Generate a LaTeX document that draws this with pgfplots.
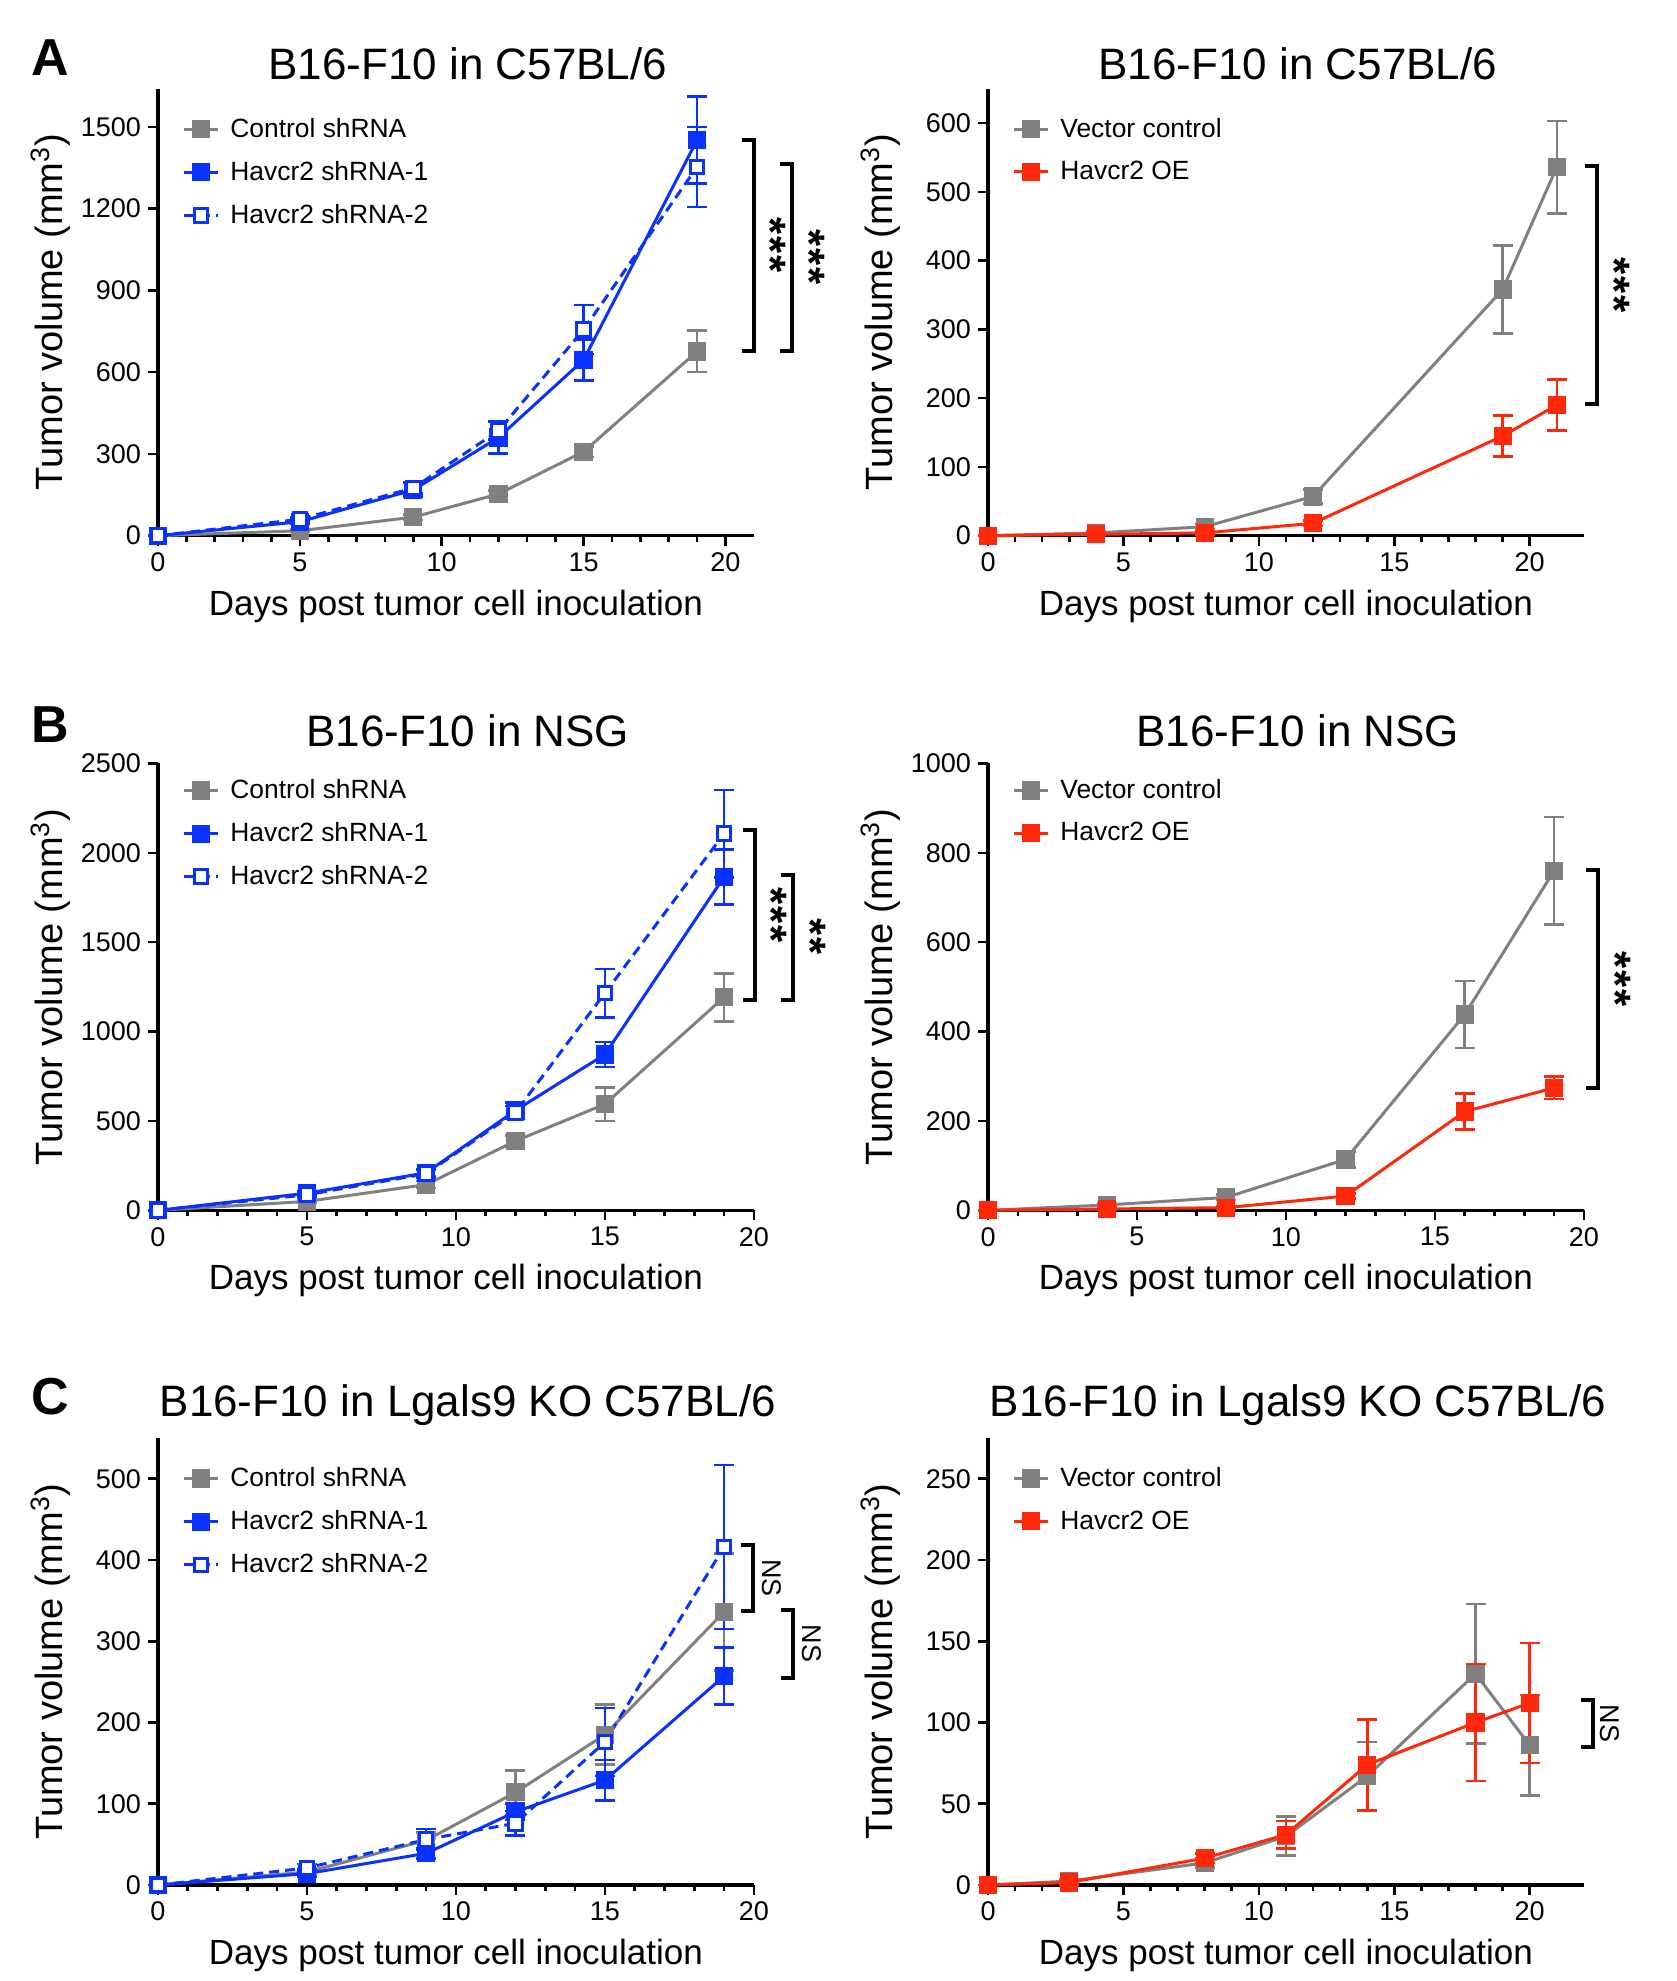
\documentclass[border=0pt]{standalone}
\usepackage{fontspec}
\setmainfont{Liberation Sans}
\usepackage{pgfplots}
\pgfplotsset{compat=1.18}

\definecolor{cgray}{RGB}{128,128,128}
\definecolor{cblue}{RGB}{10,50,255}
\definecolor{cred}{RGB}{255,40,10}

\pgfplotsset{
  panel/.style={
    scale only axis, width=298pt, height=223.5pt,
    axis lines*=left, axis line style={line width=1.6pt},
    xmin=0, ymin=0, clip=false,
    tick align=outside,
    major tick length=5pt, minor tick length=3pt,
    every tick/.style={line width=1.3pt, black},
    xtick distance=5, minor x tick num=4,
    tick label style={font=\fontsize{13.5}{13.5}\selectfont},
    /pgf/number format/assume math mode=true,
    /pgf/number format/1000 sep={},
    xlabel={Days post tumor cell inoculation},
    ylabel={Tumor volume (mm\textsuperscript{3})},
    xlabel style={font=\fontsize{17.5}{17.5}\selectfont, at={(axis description cs:0.5,-0.178)}, anchor=base},
    ylabel style={font=\fontsize{19}{19}\selectfont, at={(axis description cs:-0.180,0.5)}, anchor=center},
    title style={at={(axis description cs:0.52,1)}, anchor=base, font=\fontsize{22}{22}\selectfont},
    legend style={at={(axis description cs:0.03,1)}, anchor=north west, yshift=-11pt, draw=none, fill=none,
      font=\fontsize{13.2}{13.2}\selectfont, row sep=7.5pt, nodes={inner sep=1.5pt},
      /tikz/every odd column/.append style={column sep=4pt}},
    legend cell align=left,
  },
  eb/.style={/pgfplots/error bars/y dir=both, /pgfplots/error bars/y explicit,
    /pgfplots/error bars/error bar style={line width=1.3pt, solid},
    /pgfplots/error bars/error mark options={rotate=90, mark size=5pt, line width=1.3pt, solid}},
  sgray/.style={color=cgray, line width=1.5pt, mark=square*, mark size=3.8pt, mark options={solid}, eb},
  sblue/.style={color=cblue, line width=1.5pt, mark=square*, mark size=3.8pt, mark options={solid}, eb},
  sblueo/.style={color=cblue, line width=1.5pt, dash pattern=on 5pt off 3pt, mark=square*, mark size=3.4pt, mark options={solid, fill=white}, eb},
  sred/.style={color=cred, line width=1.5pt, mark=square*, mark size=3.8pt, mark options={solid}, eb},
}

\newcommand{\brk}[3]{%
  \draw[line width=2pt, black] ([xshift=-6pt]axis cs:#1,#2) -- (axis cs:#1,#2) -- (axis cs:#1,#3) -- ([xshift=-6pt]axis cs:#1,#3);}
\newcommand{\stars}[3]{%
  \node[rotate=-90, inner sep=0pt, font=\bfseries\fontsize{22}{22}\selectfont] at (axis cs:#1,#2) {#3};}
\newcommand{\ns}[2]{%
  \node[rotate=-90, inner sep=0pt, font=\fontsize{13.5}{13.5}\selectfont] at (axis cs:#1,#2) {NS};}

\begin{document}
\begin{tikzpicture}
\path (0,0) rectangle (838.5pt,990.7pt);

% ---------- A left ----------
\begin{axis}[panel, at={(79pt,722.8pt)}, anchor=south west,
  xmax=21, ymax=1640, ytick={0,300,...,1500},
  title={B16-F10 in C57BL/6}, title style={yshift=-1.3pt}]
\addplot[sgray] coordinates {(0,0) +- (0,0) (5,18) +- (0,5) (9,68) +- (0,10) (12,153) +- (0,12) (15,308) +- (0,20) (19,676) +- (0,76)};
\addlegendentry{Control shRNA}
\addplot[sblue] coordinates {(0,0) +- (0,0) (5,51) +- (0,8) (9,168) +- (0,25) (12,360) +- (0,58) (15,645) +- (0,75) (19,1452) +- (0,160)};
\addlegendentry{Havcr2 shRNA-1}
\addplot[sblueo] coordinates {(0,0) +- (0,0) (5,60) +- (0,8) (9,175) +- (0,20) (12,385) +- (0,33) (15,756) +- (0,90) (19,1353) +- (0,147)};
\addlegendentry{Havcr2 shRNA-2}
\brk{21.0}{1452}{678}
\brk{22.35}{1365}{678}
\stars{21.6}{1065}{*\kern1pt*\kern1pt*}
\stars{22.95}{1021}{*\kern1pt*\kern1pt*}
\end{axis}

% ---------- A right ----------
\begin{axis}[panel, at={(494.1pt,722.8pt)}, anchor=south west,
  xmax=22, ymax=650, ytick={0,100,...,600},
  title={B16-F10 in C57BL/6}, title style={yshift=-1.3pt}]
\addplot[sgray] coordinates {(0,0) +- (0,0) (4,4) +- (0,2) (8,13) +- (0,4) (12,57) +- (0,10) (19,358) +- (0,64) (21,536) +- (0,67)};
\addlegendentry{Vector control}
\addplot[sred] coordinates {(0,0) +- (0,0) (4,2) +- (0,1) (8,4) +- (0,2) (12,18) +- (0,4) (19,145) +- (0,30) (21,190) +- (0,37)};
\addlegendentry{Havcr2 OE}
\brk{22.5}{538}{192}
\stars{23.15}{365}{*\kern1pt*\kern1pt*}
\end{axis}

% ---------- B left ----------
\begin{axis}[panel, at={(79pt,385.4pt)}, anchor=south west,
  xmax=20, ymax=2500, ytick={0,500,...,2500},
  title={B16-F10 in NSG}, title style={yshift=2.5pt},
  legend style={yshift=6.7pt}]
\addplot[sgray] coordinates {(0,0) +- (0,0) (5,50) +- (0,10) (9,144) +- (0,20) (12,388) +- (0,30) (15,594) +- (0,94) (19,1192) +- (0,134)};
\addlegendentry{Control shRNA}
\addplot[sblue] coordinates {(0,0) +- (0,0) (5,96) +- (0,12) (9,210) +- (0,20) (12,559) +- (0,45) (15,872) +- (0,70) (19,1865) +- (0,155)};
\addlegendentry{Havcr2 shRNA-1}
\addplot[sblueo] coordinates {(0,0) +- (0,0) (5,87) +- (0,12) (9,205) +- (0,20) (12,548) +- (0,35) (15,1215) +- (0,135) (19,2107) +- (0,245)};
\addlegendentry{Havcr2 shRNA-2}
\brk{20.04}{2126}{1179}
\brk{21.3}{1878}{1179}
\stars{20.6}{1650}{*\kern1pt*\kern1pt*}
\stars{21.9}{1530}{*\kern1pt*}
\end{axis}

% ---------- B right ----------
\begin{axis}[panel, at={(494.1pt,385.4pt)}, anchor=south west,
  xmax=20, ymax=1000, ytick={0,200,...,1000},
  title={B16-F10 in NSG}, title style={yshift=2.5pt},
  legend style={yshift=6.7pt}]
\addplot[sgray] coordinates {(0,0) +- (0,0) (4,12) +- (0,4) (8,29) +- (0,6) (12,114) +- (0,18) (16,438) +- (0,75) (19,760) +- (0,120)};
\addlegendentry{Vector control}
\addplot[sred] coordinates {(0,0) +- (0,0) (4,3) +- (0,2) (8,6) +- (0,3) (12,32) +- (0,6) (16,221) +- (0,40) (19,274) +- (0,25)};
\addlegendentry{Havcr2 OE}
\brk{20.48}{761}{273}
\stars{21.05}{517}{*\kern1pt*\kern1pt*}
\end{axis}

% ---------- C left ----------
\begin{axis}[panel, at={(79pt,48pt)}, anchor=south west,
  xmax=20, ymax=550, ytick={0,100,...,500},
  title={B16-F10 in Lgals9 KO C57BL/6}, title style={yshift=5pt}]
\addplot[sgray] coordinates {(0,0) +- (0,0) (5,16) +- (0,4) (9,55) +- (0,10) (12,114) +- (0,27) (15,185) +- (0,37) (19,336) +- (0,72)};
\addlegendentry{Control shRNA}
\addplot[sblue] coordinates {(0,0) +- (0,0) (5,14) +- (0,4) (9,39) +- (0,6) (12,90) +- (0,10) (15,129) +- (0,25) (19,257) +- (0,35)};
\addlegendentry{Havcr2 shRNA-1}
\addplot[sblueo] coordinates {(0,0) +- (0,0) (5,21) +- (0,5) (9,56) +- (0,13) (12,76) +- (0,15) (15,176) +- (0,42) (19,416) +- (0,101)};
\addlegendentry{Havcr2 shRNA-2}
\brk{19.96}{419}{337}
\brk{21.31}{339}{255}
\ns{20.6}{378}
\ns{21.95}{297}
\end{axis}

% ---------- C right ----------
\begin{axis}[panel, at={(494.1pt,48pt)}, anchor=south west,
  xmax=22, ymax=275, ytick={0,50,...,250},
  title={B16-F10 in Lgals9 KO C57BL/6}, title style={yshift=5pt}]
\addplot[sgray] coordinates {(0,0) +- (0,0) (3,2.4) +- (0,1) (8,13.6) +- (0,3) (11,30) +- (0,12) (14,67) +- (0,21) (18,130) +- (0,43) (20,86) +- (0,31)};
\addlegendentry{Vector control}
\addplot[sred] coordinates {(0,0) +- (0,0) (3,1.5) +- (0,1) (8,16.5) +- (0,3) (11,31) +- (0,8.5) (14,74) +- (0,28) (18,100) +- (0,36) (20,112) +- (0,37)};
\addlegendentry{Havcr2 OE}
\brk{22.35}{114}{85}
\ns{22.95}{99.5}
\end{axis}

\node[anchor=base west, inner sep=0pt, font=\bfseries\fontsize{26}{26}\selectfont] at (15.8pt,952.8pt) {A};
\node[anchor=base west, inner sep=0pt, font=\bfseries\fontsize{26}{26}\selectfont] at (15.8pt,619.2pt) {B};
\node[anchor=base west, inner sep=0pt, font=\bfseries\fontsize{26}{26}\selectfont] at (15.8pt,283.1pt) {C};
\end{tikzpicture}
\end{document}
